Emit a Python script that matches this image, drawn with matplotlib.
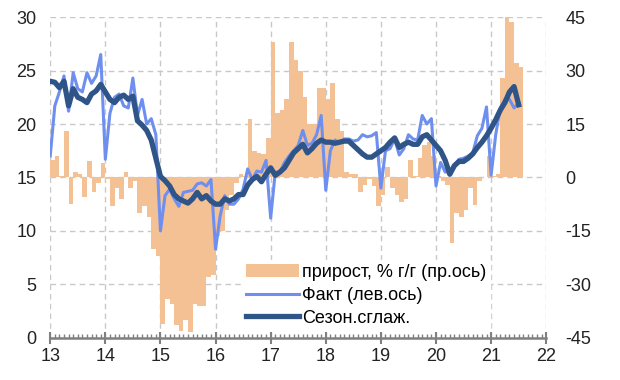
import numpy as np
import matplotlib.pyplot as plt

# помесячные данные, янв 2013 - июл 2021

# прирост, % г/г (правая ось)
growth = [5, 6, 0.5, 13, -7.5, 1.5, 1, -5.5, 4.5, -4, -1.5, 4,
          -0.5, -8, -3, -6, 1.5, -3, -1, -10, -8, -11, -20, -22,
          -41, -34, -35.5, -41.5, -43, -40, -43.5, -35.5, -36, -36, -28, -27.5,
          -16.4, -15, -9, -5, -1.5, 1, 0.5, 16.5, 7.5, 7, 6.5, 11,
          38, 18, 19, 22, 38, 33, 30, 22.5, 15, 15, 25, 25,
          22, 26.6, 16.5, 13, 1.5, 1, 1, -4, -2, -0.5, -2.5, -8,
          -5, 3, -3, -5, -7, -6, 5, 0.5, 5.6, 9, 10, 6,
          0.5, -1, -2, -18.5, -10, -11, -9, -3, -7.7, -1, 0, 6,
          0.5, 1, 28, 45, 43.5, 32, 31]

# Факт (левая ось)
fact = [17.0, 21.7, 23.0, 24.5, 21.2, 24.8, 23.3, 23.0, 24.8, 23.8, 24.5, 26.5,
        16.7, 21.0, 22.5, 22.8, 21.7, 21.5, 24.3, 20.8, 22.3, 20.0, 20.5, 19.0,
        10.0, 13.3, 13.9, 13.0, 12.3, 13.6, 13.7, 13.8, 14.4, 14.5, 14.2, 14.8,
        8.3, 11.4, 13.3, 12.5, 12.5, 13.0, 13.9, 15.8, 14.8, 15.6, 15.5, 16.6,
        11.2, 15.5, 15.5, 16.4, 17.0, 17.5, 18.0, 19.4, 18.0, 18.2, 19.0, 20.8,
        13.8, 17.5, 18.5, 18.2, 18.6, 18.6, 18.4, 18.5, 19.0, 18.8, 18.9, 19.2,
        14.0, 17.5, 17.7, 18.6, 17.1, 17.7, 19.0, 18.6, 18.5, 20.8, 20.0, 20.5,
        14.2, 16.4, 15.5, 15.6, 16.0, 16.7, 16.8, 17.0, 17.3, 18.9, 19.6, 21.6,
        15.2, 19.0, 21.5, 22.3, 22.3, 21.5, 22.0]

# Сезонно сглаженный ряд (левая ось)
smooth = [24.0, 23.9, 23.4, 24.0, 21.7, 23.3, 22.5, 22.3, 22.0, 22.8, 23.1, 23.7,
          23.0, 22.3, 22.0, 22.5, 22.7, 22.3, 22.6, 20.3, 19.9, 19.4, 18.5, 16.8,
          15.1, 14.7, 14.2, 13.4, 13.0, 12.8, 12.6, 13.0, 13.6, 13.0, 13.3, 12.8,
          12.5, 12.5, 13.0, 12.8, 13.0, 13.4, 13.4, 14.3, 14.8, 15.1, 14.6, 15.3,
          15.9, 15.2, 15.5, 15.9, 16.6, 17.3, 17.7, 18.1, 17.3, 17.7, 18.2, 18.5,
          18.3, 18.3, 18.2, 18.3, 18.4, 18.4, 18.0, 17.6, 17.2, 16.9, 16.9, 17.2,
          17.5, 17.8, 18.3, 18.7, 17.8, 18.1, 18.3, 18.1, 18.1, 18.8, 19.0, 18.5,
          18.0, 17.5, 16.6, 15.3, 16.1, 16.5, 16.5, 16.8, 17.2, 17.8, 18.3, 18.9,
          19.6, 20.4, 21.3, 22.0, 23.0, 23.5, 21.8]

years = [13, 14, 15, 16, 17, 18, 19, 20, 21, 22]
left_ticks = [0, 5, 10, 15, 20, 25, 30]
right_ticks = [-45, -30, -15, 0, 15, 30, 45]

x = 13 + np.arange(len(fact)) / 12

plt.rcParams['font.family'] = ['Liberation Sans', 'DejaVu Sans']
plt.rcParams['font.size'] = 13
plt.rcParams['axes.unicode_minus'] = False

fig = plt.figure(figsize=(6.2, 3.8), dpi=100)
ax = fig.add_axes([0.081, 0.111, 0.800, 0.844])
ax2 = ax.twinx()

# бары на правой оси, под линиями
bars = ax2.bar(x, growth, width=1/12, align='edge', color='#F4C195',
               linewidth=0, label='прирост, % г/г (пр.ось)')
ax2.set_ylim(-45, 45)
ax2.set_yticks(right_ticks)
ax2.grid(True, color='#c8c8c8', linestyle=(0, (4, 3)), linewidth=1)
ax2.set_axisbelow(True)

ax.set_zorder(ax2.get_zorder() + 1)
ax.patch.set_visible(False)

l1, = ax.plot(x, fact, color='#6F8FEE', lw=2.2, label='Факт (лев.ось)')
l2, = ax.plot(x, smooth, color='#2F5488', lw=3.8, label='Сезон.сглаж.')

ax.set_xlim(13, 22)
ax.set_ylim(0, 30)
ax.set_yticks(left_ticks)
ax.set_xticks(years)
ax.set_xticks(np.arange(13, 22.001, 1/12), minor=True)

for a in (ax, ax2):
    for s in ['top', 'left', 'right', 'bottom']:
        a.spines[s].set_visible(False)
ax.spines['bottom'].set_visible(True)
ax.spines['bottom'].set_color('#808080')
ax.spines['bottom'].set_linewidth(1.8)

ax.tick_params(axis='x', which='major', direction='inout', length=9,
               width=1.5, color='#808080', pad=3, labelcolor='#222222')
ax.tick_params(axis='x', which='minor', direction='in', length=3,
               width=1, color='#808080')
ax.tick_params(axis='y', length=0, pad=10, labelcolor='#222222')
ax2.tick_params(axis='y', length=0, pad=14, labelcolor='#222222')
ax2.tick_params(axis='x', length=0)

# вертикальные пунктиры по годам
for yr in years:
    ax2.axvline(yr, color='#c8c8c8', linestyle=(0, (4, 3)), linewidth=1, zorder=0)

leg = ax.legend([bars, l1, l2], [bars.get_label(), l1.get_label(), l2.get_label()],
                loc='lower left', bbox_to_anchor=(0.37, -0.005), frameon=True,
                fancybox=False, edgecolor='white', facecolor='white', framealpha=1,
                handlelength=2.9, handletextpad=0.2, borderpad=0.2,
                labelspacing=0.33, fontsize=13)

fig.savefig('out.png', dpi=100)
